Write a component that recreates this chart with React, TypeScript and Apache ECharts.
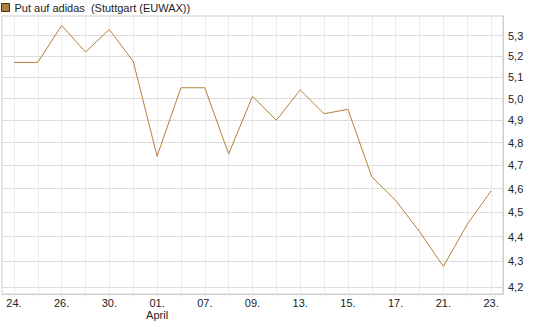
import React, { useEffect, useRef } from "react";
import * as echarts from "echarts";

const categories = ["24.", "25.", "26.", "29.", "30.", "31.", "01.", "06.", "07.", "08.", "09.", "12.", "13.", "14.", "15.", "16.", "17.", "20.", "21.", "22.", "23."];
const prices = [5.17, 5.17, 5.35, 5.22, 5.33, 5.175, 4.74, 5.05, 5.05, 4.75, 5.01, 4.9, 5.04, 4.93, 4.95, 4.65, 4.55, 4.42, 4.28, 4.45, 4.59];
const yTicks = [4.2, 4.3, 4.4, 4.5, 4.6, 4.7, 4.8, 4.9, 5.0, 5.1, 5.2, 5.3];
const seriesName = "Put auf adidas  (Stuttgart (EUWAX))";
const yMin = 4.172;
const yMax = 5.397;

export default function App() {
  const ref = useRef<HTMLDivElement>(null);
  useEffect(() => {
    if (!ref.current) return;
    const chart = echarts.init(ref.current, null, { renderer: "svg" });
    const font = "Liberation Sans, Arial, sans-serif";
    chart.setOption({
      animation: false,
      textStyle: { fontFamily: font },
      legend: {
        left: 1,
        top: 2,
        padding: 0,
        itemWidth: 8,
        itemHeight: 8,
        textStyle: { fontSize: 11, color: "#222", fontFamily: font },
        data: [
          {
            name: seriesName,
            icon: "rect",
            itemStyle: { color: "#b08040", borderColor: "#4a3010", borderWidth: 1 },
          },
        ],
      },
      grid: {
        left: 2,
        right: 42,
        top: 16,
        bottom: 33,
        show: true,
        borderColor: "#cfcfcf",
        borderWidth: 1,
      },
      xAxis: {
        type: "category",
        data: categories,
        boundaryGap: true,
        axisLine: { show: true, lineStyle: { color: "#cfcfcf" } },
        axisTick: { show: true, alignWithLabel: true, interval: 0, length: 3, lineStyle: { color: "#e4e4e4" } },
        splitLine: { show: true, alignWithLabel: true, interval: 0, lineStyle: { color: "#ececec" } },
        axisLabel: {
          interval: 1,
          margin: 3,
          fontSize: 11,
          color: "#222",
          lineHeight: 12,
          fontFamily: font,
          formatter: (v: string, i: number) => (i === 6 ? v + "\nApril" : v),
        },
      },
      yAxis: {
        type: "value",
        position: "right",
        min: Math.log(yMin),
        max: Math.log(yMax),
        axisLine: { show: true, lineStyle: { color: "#cfcfcf" } },
        axisTick: { show: false, customValues: yTicks.map((v) => Math.log(v)) },
        splitLine: { show: true, lineStyle: { color: "#dcdcdc" } },
        axisLabel: {
          customValues: yTicks.map((v) => Math.log(v)),
          margin: 5,
          fontSize: 11,
          color: "#222",
          fontFamily: font,
          formatter: (v: number) => Math.exp(v).toFixed(1).replace(".", ","),
        },
      },
      series: [
        {
          name: seriesName,
          type: "line",
          data: prices.map((p) => Math.log(p)),
          showSymbol: false,
          symbol: "none",
          lineStyle: { color: "#b5803a", width: 1 },
          itemStyle: { color: "#b08040" },
        },
      ],
    });
    return () => chart.dispose();
  }, []);
  return <div ref={ref} style={{ width: 545, height: 327, position: "absolute", left: 0, top: 0 }} />;
}
